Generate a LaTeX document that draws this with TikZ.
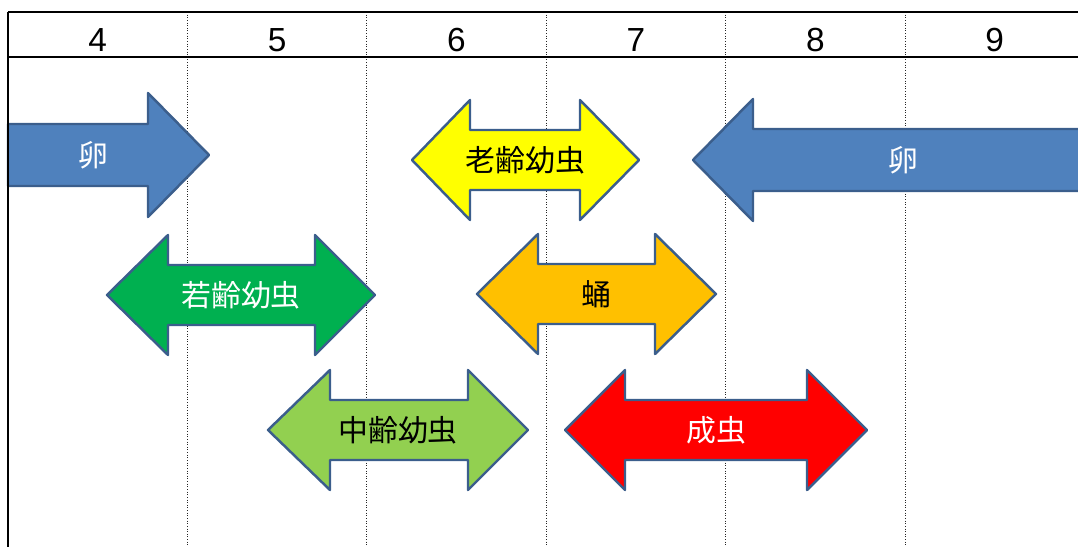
\documentclass[tikz,border=0pt]{standalone}
\usepackage{fontspec}
\setmainfont{Liberation Sans}
\newfontfamily\jp{Noto Sans CJK JP}
\definecolor{eggblue}{HTML}{4F81BD}
\definecolor{edgeblue}{HTML}{3B5E8C}
\definecolor{younggreen}{HTML}{00B050}
\definecolor{midgreen}{HTML}{92D050}
\definecolor{oldyellow}{HTML}{FFFF00}
\definecolor{pupaorange}{HTML}{FFC000}
\definecolor{adultred}{HTML}{FF0000}
\tikzstyle{arrowshape}=[draw=edgeblue,line width=1.4pt,line join=round]
\tikzstyle{stagetext}=[font=\jp\fontsize{17}{20}\selectfont,inner sep=0]
\tikzstyle{daynum}=[font=\fontsize{19}{22}\selectfont,inner sep=0]
\tikzstyle{gridline}=[densely dotted,black!85,line width=0.5pt]

\begin{document}
\begin{tikzpicture}[x=0.02cm,y=-0.02cm]
\clip (0,0) rectangle (1078,547);
% month columns
\foreach \i in {1,...,5}
	\draw[gridline] ({8+179.4*\i},12)--({8+179.4*\i},547);
\draw[line width=1.1pt] (8,12)--(1078,12);
\draw[line width=0.8pt] (8,57)--(1078,57);
\foreach \n [count=\i] in {4,...,9}
	\node[daynum] (day\n) at ({8+179.4*(\i-0.5)},40) {\n};

% egg arrows
\draw[arrowshape,fill=eggblue] (8,124)--(148,124)--(148,93)--(209,155)--(148,217)--(148,186)--(8,186)--cycle;
\node[stagetext,text=white] (egg1) at (93,155) {卵};
\draw[arrowshape,fill=eggblue] (1090,129)--(753,129)--(753,99)--(693,160)--(753,221)--(753,191)--(1090,191)--cycle;
\node[stagetext,text=white] (egg2) at (903,160) {卵};

% stage arrows
\foreach \xa/\xb/\xc/\xd/\yy/\fillcol/\textcol/\lbl/\nm in {
	107/168/315/375/295/younggreen/white/若齢幼虫/young,
	412/470/580/639/160/oldyellow/black/老齢幼虫/old,
	477/538/655/716/294/pupaorange/black/蛹/pupa,
	268/330/468/528/430/midgreen/black/中齢幼虫/middle,
	565/625/807/867/430/adultred/white/成虫/adult}{
	\draw[arrowshape,fill=\fillcol] (\xa,\yy)--(\xb,\yy-60)--(\xb,\yy-30)--(\xc,\yy-30)--(\xc,\yy-60)--(\xd,\yy)
		--(\xc,\yy+60)--(\xc,\yy+30)--(\xb,\yy+30)--(\xb,\yy+60)--cycle;
	\node[stagetext,text=\textcol] (\nm) at ({(\xa+\xd)/2},\yy) {\lbl};
}

\draw[line width=1.1pt] (8,12)--(8,547);
\end{tikzpicture}
\end{document}
